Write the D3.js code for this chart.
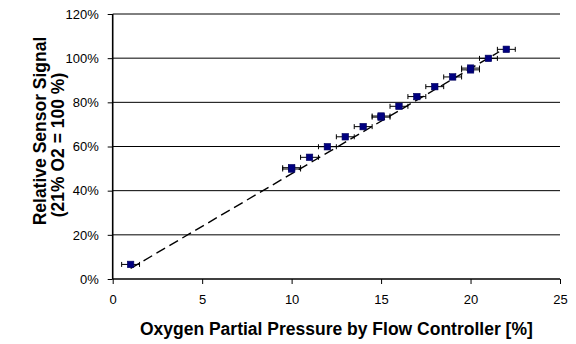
<!DOCTYPE html>
<html>
<head>
<meta charset="utf-8">
<script src="https://cdn.jsdelivr.net/npm/d3@7"></script>
<style>
  html, body { margin: 0; padding: 0; background: #fff; }
  svg { display: block; font-family: "Liberation Sans", Arial, sans-serif; }
</style>
</head>
<body>
<svg id="chart" width="576" height="344"></svg>
<script>
// Flow-controller O2 setpoint [%] and relative sensor signal [%]
const flowO2 = [1, 10, 10, 11, 12, 13, 14, 15, 15, 16, 17, 18, 19, 20, 20, 21, 22];
const signal = [6.6, 49.8, 50.4, 55.1, 59.9, 64.4, 69.0, 73.3, 73.8, 78.2, 82.6, 87.1, 91.5, 94.7, 95.5, 99.9, 104.0];
// horizontal uncertainty of the flow controller setting
const flowErr = [0.5, 0.5, 0.5, 0.5, 0.5, 0.5, 0.5, 0.5, 0.5, 0.5, 0.5, 0.5, 0.5, 0.5, 0.5, 0.5, 0.5];
// ideal response line (21 % O2 = 100 %)
const idealX = [1, 21.6];
const idealY = [4.8, 102.9];

const xTicks = [0, 5, 10, 15, 20, 25];
const yTicks = [0, 20, 40, 60, 80, 100, 120];

const svg = d3.select("#chart");
const plot = { left: 112.7, right: 560, top: 14, bottom: 279 };

const x = d3.scaleLinear().domain([0, 25]).range([plot.left, plot.right]);
const y = d3.scaleLinear().domain([0, 120]).range([plot.bottom, plot.top]);

// horizontal gridlines
svg.append("g")
  .selectAll("line")
  .data(yTicks.filter(d => d > 0))
  .join("line")
  .attr("x1", plot.left).attr("x2", plot.right)
  .attr("y1", d => y(d)).attr("y2", d => y(d))
  .attr("stroke", "#000").attr("stroke-width", 1);

// axes
const xAxis = d3.axisBottom(x).tickValues(xTicks).tickSize(5).tickPadding(11).tickFormat(d3.format("d"));
const yAxis = d3.axisLeft(y).tickValues(yTicks).tickSize(5).tickPadding(9).tickFormat(d => d + "%");

const gx = svg.append("g").attr("transform", `translate(0,${plot.bottom})`).call(xAxis);
const gy = svg.append("g").attr("transform", `translate(${plot.left},0)`).call(yAxis);

[gx, gy].forEach(g => {
  g.select(".domain").attr("stroke", "#000").attr("stroke-width", 1.6);
  g.selectAll(".tick line").attr("stroke", "#000");
  g.selectAll(".tick text")
    .attr("fill", "#000")
    .attr("font-size", 13)
    .attr("font-family", "Liberation Sans, Arial, sans-serif");
});
gx.select(".domain").attr("d", `M${plot.left},0H${plot.right}`);
gy.select(".domain").attr("d", `M0,${plot.bottom}V${plot.top}`);

// ideal response (dashed)
const pts = idealX.map((v, i) => [v, idealY[i]]);
svg.append("path")
  .datum(pts)
  .attr("d", d3.line().x(d => x(d[0])).y(d => y(d[1])))
  .attr("fill", "none")
  .attr("stroke", "#000")
  .attr("stroke-width", 1.4)
  .attr("stroke-dasharray", "10,5");

const data = flowO2.map((v, i) => ({ x: v, y: signal[i], e: flowErr[i] }));

// error bars
const eb = svg.append("g").attr("stroke", "#000").attr("stroke-width", 1);
eb.selectAll("line.bar").data(data).join("line").attr("class", "bar")
  .attr("x1", d => x(d.x - d.e)).attr("x2", d => x(d.x + d.e))
  .attr("y1", d => y(d.y)).attr("y2", d => y(d.y));
eb.selectAll("line.capL").data(data).join("line").attr("class", "capL")
  .attr("x1", d => x(d.x - d.e)).attr("x2", d => x(d.x - d.e))
  .attr("y1", d => y(d.y) - 2.5).attr("y2", d => y(d.y) + 2.5);
eb.selectAll("line.capR").data(data).join("line").attr("class", "capR")
  .attr("x1", d => x(d.x + d.e)).attr("x2", d => x(d.x + d.e))
  .attr("y1", d => y(d.y) - 2.5).attr("y2", d => y(d.y) + 2.5);

// markers
const ms = 6.5;
svg.append("g").selectAll("rect").data(data).join("rect")
  .attr("x", d => x(d.x) - ms / 2)
  .attr("y", d => y(d.y) - ms / 2)
  .attr("width", ms).attr("height", ms)
  .attr("fill", "#000080")
  .attr("stroke", "#00005a")
  .attr("stroke-width", 0.6);

// axis titles
svg.append("text")
  .attr("x", (plot.left + plot.right) / 2)
  .attr("y", 335)
  .attr("text-anchor", "middle")
  .attr("font-size", 17.5)
  .attr("font-weight", "bold")
  .text("Oxygen Partial Pressure by Flow Controller [%]");

const yt = svg.append("text")
  .attr("transform", "rotate(-90)")
  .attr("text-anchor", "middle")
  .attr("font-size", 17.5)
  .attr("font-weight", "bold");
yt.append("tspan").attr("x", -131).attr("y", 46).text("Relative Sensor Signal");
yt.append("tspan").attr("x", -145).attr("y", 63.5).text("(21% O2 = 100 %)");
</script>
</body>
</html>
